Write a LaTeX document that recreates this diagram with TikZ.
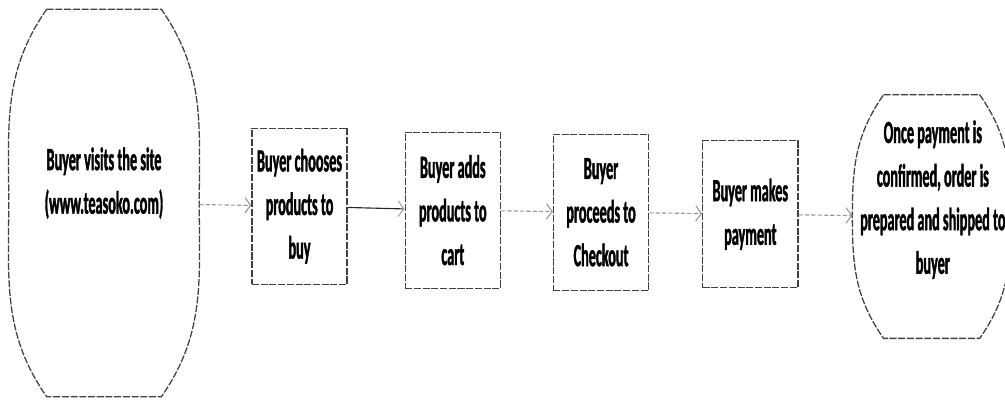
\documentclass[tikz,border=0pt]{standalone}
\usepackage{fontspec}
\setmainfont{Carlito}[FakeStretch=0.44, BoldFeatures={FakeBold=1.2}]
\usetikzlibrary{positioning,arrows.meta}

\tikzset{
  outline/.style={draw=black!75, line width=0.9pt, dash pattern=on 5pt off 1.2pt},
  blurb/.style={align=center, inner sep=1pt, font=\fontsize{23}{31}\selectfont\bfseries},
  stepbox/.style={outline, blurb, minimum width=2.38cm, minimum height=3.9cm},
  flow/.style={draw=gray!80, line width=0.8pt, dash pattern=on 3pt off 1.5pt,
    -{Straight Barb[length=4pt,width=11pt]}},
}

\begin{document}
\begin{tikzpicture}
    \useasboundingbox (0,0) rectangle (25.125,-10);
    %% start and end
    \node[minimum width=4.75cm, minimum height=9.675cm] (visit) at (2.6,-5.075) {};
    \node[blurb] (visittext) at ([yshift=0.5cm]visit.center) {Buyer visits the site\\(www.teasoko.com)};
    %% steps
    \node[stepbox] (choose) [right=1.3cm of visit, yshift=-0.08cm] {Buyer chooses\\products to\\buy};
    \node[stepbox] (add) [right=1.42cm of choose, yshift=-0.1cm] {Buyer adds\\products to\\cart};
    \node[stepbox] (checkout) [right=1.295cm of add, yshift=-0.05cm] {Buyer\\proceeds to\\Checkout};
    \node[stepbox, minimum height=3.675cm] (pay) [right=1.32cm of checkout, yshift=-0.05cm] {Buyer makes\\payment};
    \node[minimum width=3.95cm, minimum height=6.075cm] (ship) [right=1.345cm of pay, yshift=-0.06cm] {};
    \node[blurb] (shiptext) at ([xshift=0.03cm,yshift=0.425cm]ship.center) {Once payment is\\confirmed, order is\\prepared and shipped to\\buyer};
    %% rounded outlines
    \foreach \shp/\ins in {visit/0.95cm,ship/0.78cm}
        \draw[outline] ([xshift=\ins]\shp.north west) -- ([xshift=-\ins]\shp.north east)
            to[out=-55,in=90] (\shp.east) to[out=-90,in=55] ([xshift=-\ins]\shp.south east)
            -- ([xshift=\ins]\shp.south west) to[out=125,in=-90] (\shp.west)
            to[out=90,in=-125] ([xshift=\ins]\shp.north west);
    %% arrows
    \draw[flow] (visit) -- (choose);
    \draw[flow, draw=black!85, solid, -{Straight Barb[length=4pt,width=11pt,color=gray!70]}] (choose) -- (add);
    \draw[flow] (add) -- (checkout);
    \draw[flow] (checkout) -- (pay);
    \draw[flow] (pay) -- (ship);
\end{tikzpicture}
\end{document}
